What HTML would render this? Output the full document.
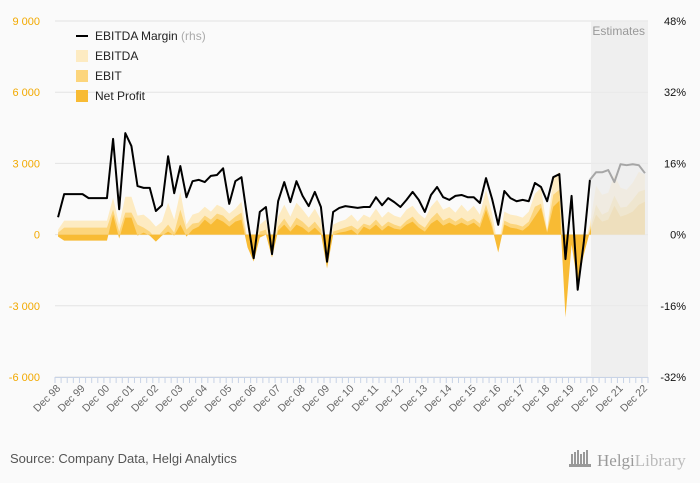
<!DOCTYPE html>
<html><head><meta charset="utf-8"><style>
body{margin:0;background:#fafafa;font-family:"Liberation Sans",sans-serif}
#c{position:relative;width:700px;height:483px;overflow:hidden}
</style></head><body>
<div id="c">
<svg id="s" width="700" height="483"></svg>
</div>
<script>
const categories = Array.from({length:97},(_,i)=>{const y=(98+Math.floor(i/4))%100;const q=['Dec','Mar','Jun','Sep'][i%4];return q+' '+String(i%4===0?y:(y+1)%100).padStart(2,'0');});
const ebitdaMargin=[3.9,9.1,9.1,9.1,9.1,8.2,8.2,8.2,8.2,21.5,5.7,22.8,19.9,10.9,10.5,10.5,5.3,6.6,17.6,9.3,15.4,8.4,12.0,12.3,11.8,13.2,13.4,14.9,6.9,12.0,12.9,3.3,-5.3,5.1,6.2,-4.4,7.5,11.8,7.3,12.0,8.7,6.4,9.6,6.2,-6.1,5.1,6.0,6.4,6.2,6.0,6.2,6.2,8.4,6.6,8.2,7.3,6.2,7.8,9.6,7.8,5.1,8.9,10.7,8.4,7.8,8.7,8.9,8.4,8.4,7.1,12.7,8.0,2.2,9.8,8.2,7.5,7.8,7.5,11.6,10.7,7.5,12.9,13.6,-5.5,8.7,-12.4,-1.7,12.3,14.0,14.0,14.5,11.8,15.8,15.6,15.8,15.6,13.8];
const ebitda=[210,588,588,588,588,588,588,588,588,1554,420,1596,1596,798,840,630,336,546,1344,630,1806,420,840,924,1176,966,1260,1134,882,1092,1386,-210,-630,420,630,-630,756,1260,756,1344,1050,714,1092,630,-1134,420,546,630,840,546,840,714,1092,714,966,798,714,1050,1218,882,672,1176,1470,1050,1176,924,1260,966,1218,840,1890,882,-546,966,840,798,714,966,1722,1974,210,2394,2646,-1470,-42,-1134,-462,420,2058,1680,1764,2520,1974,1890,2184,2646,2520];
const ebit=[84,294,294,294,294,294,294,294,294,1050,126,924,924,420,294,126,-168,126,420,84,1050,210,462,504,798,630,882,798,546,756,924,-336,-882,126,210,-840,336,672,294,714,546,294,546,210,-1302,126,210,294,378,210,462,378,630,336,546,420,336,588,756,462,294,672,924,588,714,546,714,546,672,462,1260,462,-714,588,462,420,336,546,1176,1302,126,1680,1890,-2730,-210,-1680,-630,210,1260,840,966,1638,1134,1176,1470,1806,1890];
const netProfit=[-84,-252,-252,-252,-252,-252,-252,-252,-252,840,-168,714,714,-42,84,-42,-294,-42,126,-42,420,-84,210,336,630,420,672,546,336,546,630,-546,-1134,-126,0,-966,168,420,126,420,294,84,294,42,-1428,0,84,126,210,0,336,210,420,168,378,252,210,420,546,294,126,462,630,378,504,378,504,378,504,294,1050,294,-756,420,294,252,168,378,756,1134,84,1176,1428,-3486,-420,-2100,-840,126,840,546,630,1218,756,840,966,1260,1386];
const leftTicks=[9000,6000,3000,0,-3000,-6000];
const leftLabels=['9 000','6 000','3 000','0','-3 000','-6 000'];
const rightLabels=['48%','32%','16%','0%','-16%','-32%'];
const estStart=87;

const NS='http://www.w3.org/2000/svg',s=document.getElementById('s');
function el(t,a,p){const e=document.createElementNS(NS,t);for(const k in a)e.setAttribute(k,a[k]);(p||s).appendChild(e);return e;}
const x0=55,x1=648,yT=21,yB=377,n=categories.length,bw=(x1-x0)/n;
const X=i=>x0+(i+0.5)*bw;
const Y=v=>yB-(v+6000)/15000*(yB-yT);
const YR=p=>yB-(p+32)/80*(yB-yT);
leftTicks.forEach((v,k)=>{
 const g=el('line',{x1:x0,x2:x1,y1:Y(v),y2:Y(v),stroke:'#e3e3e3','stroke-width':1});
 
 const t=el('text',{x:40,y:Y(v)+4,'text-anchor':'end','font-size':11,fill:'#f2a900'});t.textContent=leftLabels[k];
 
 const r=el('text',{x:686,y:Y(v)+4,'text-anchor':'end','font-size':11,fill:'#111'});r.textContent=rightLabels[k];
 
});
function area(arr,fill,name){
 let d='M'+X(0)+','+Y(0);arr.forEach((v,i)=>d+='L'+X(i)+','+Y(v));d+='L'+X(n-1)+','+Y(0)+'Z';
 const p=el('path',{d,fill});
}
area(ebitda,'#fdebc2','ebitda-area');
area(ebit,'#fcd57c','ebit-area');
area(netProfit,'#f8bb34','net-profit-area');
const ex=591;
const sh=el('rect',{x:ex,y:yT,width:x1-ex,height:yB-yT,fill:'#ebebeb','fill-opacity':0.75});

const et=el('text',{x:x1-3,y:35,'text-anchor':'end','font-size':12,fill:'#999'});et.textContent='Estimates';

let d1='',d2='';
ebitdaMargin.forEach((v,i)=>{if(i<=estStart)d1+=(i?'L':'M')+X(i)+','+YR(v);if(i>=estStart)d2+=(i>estStart?'L':'M')+X(i)+','+YR(v);});
const l1=el('path',{d:d1,fill:'none',stroke:'#000','stroke-width':2,'stroke-linejoin':'round'});

const l2=el('path',{d:d2,fill:'none',stroke:'#a6a6a6','stroke-width':2,'stroke-linejoin':'round'});

const ax=el('line',{x1:x0,x2:x1,y1:yB+0.5,y2:yB+0.5,stroke:'#c8d3e6'});

for(let i=0;i<=n;i++){const tk=el('line',{x1:x0+i*bw,x2:x0+i*bw,y1:yB,y2:yB+6,stroke:'#c8d3e6'});
 }
categories.forEach((c,i)=>{if(i%4)return;
 const t=el('text',{x:X(i)+3,y:yB+12,'text-anchor':'end','font-size':10.5,fill:'#666',transform:`rotate(-45 ${X(i)+3} ${yB+12})`});t.textContent=c;
 });
const leg=[['line','#000','EBITDA Margin'],['box','#fdebc2','EBITDA'],['box','#fcd57c','EBIT'],['box','#f8bb34','Net Profit']];
leg.forEach((l,k)=>{const y=36+k*20;
 const g=el('g',{});
 if(l[0]==='line')el('line',{x1:76,x2:88,y1:y,y2:y,stroke:l[1],'stroke-width':2},g);
 else el('rect',{x:76,y:y-6,width:12,height:12,fill:l[1]},g);
 const t=el('text',{x:95,y:y+4,'font-size':12,fill:'#222'},g);t.textContent=l[2];
 if(k===0){const r=el('tspan',{fill:'#aaa'},t);r.textContent=' (rhs)';}
});
const src=el('text',{x:10,y:463,'font-size':13,fill:'#555'});src.textContent='Source: Company Data, Helgi Analytics';

const lg=el('g',{});
for(let i=0;i<6;i++)el('rect',{x:571+i*3,y:454-(i%3)*2,width:2,height:10+(i%3)*2,fill:'#999'},lg);
el('rect',{x:569,y:464,width:22,height:3,fill:'#999'},lg);
const lt=el('text',{x:597,y:466,'font-size':17,fill:'#999','font-family':'Liberation Serif, serif'},lg);
lt.textContent='Helgi';const lt2=el('tspan',{fill:'#bbb'},lt);lt2.textContent='Library';
</script>
</body></html>
